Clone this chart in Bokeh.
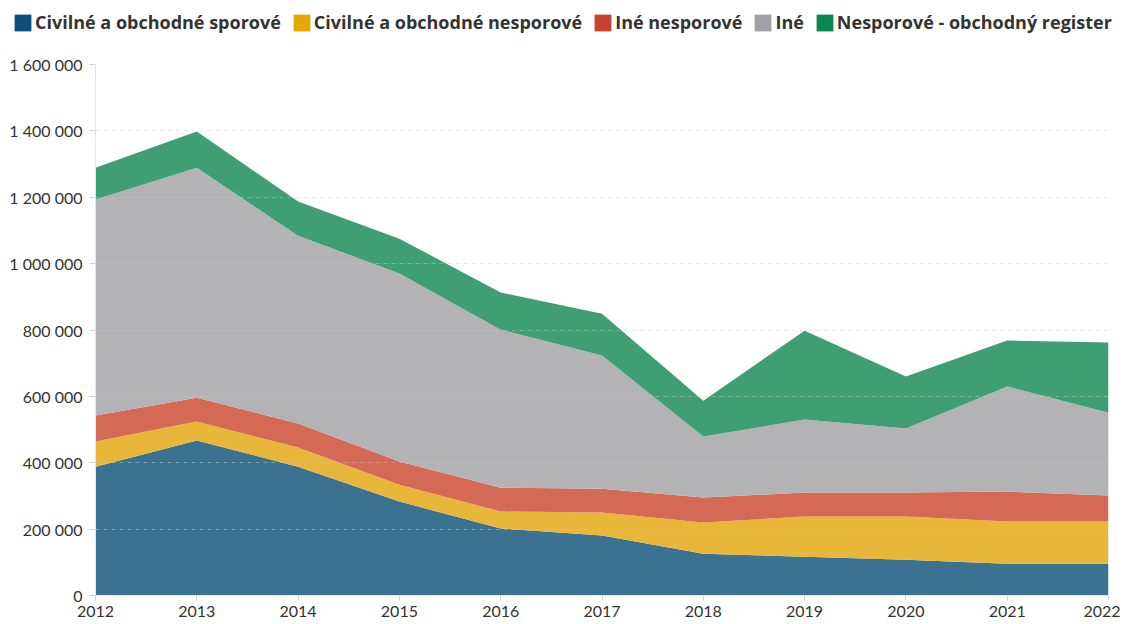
from bokeh.plotting import figure
from bokeh.layouts import column, row
from bokeh.models import (ColumnDataSource, FixedTicker, CustomJSTickFormatter, Legend, LegendItem, Range1d)
from bokeh.embed import file_html
from bokeh.resources import INLINE

years = [2012, 2013, 2014, 2015, 2016, 2017, 2018, 2019, 2020, 2021, 2022]
civ_sporove = [388000, 467000, 388000, 283000, 202000, 181000, 126000, 117000, 108000, 96000, 96000]
civ_nesporove = [76000, 57000, 58000, 51000, 51000, 69000, 94000, 121000, 130000, 127000, 127000]
ine_nesporove = [78000, 72000, 72000, 70000, 72000, 72000, 75000, 72000, 72000, 90000, 78000]
ine = [651000, 693000, 566000, 566000, 476000, 401000, 184000, 220000, 193000, 317000, 250000]
nesp_or = [96000, 109000, 103000, 105000, 112000, 126000, 108000, 268000, 157000, 138000, 211000]

names = ["Civilné a obchodné sporové", "Civilné a obchodné nesporové", "Iné nesporové", "Iné",
         "Nesporové - obchodný register"]
keys = ["a", "b", "c", "d", "e"]
area_colors = ["#3b7291", "#e8b739", "#d46a56", "#b3b3b5", "#3f9e74"]
legend_colors = ["#0b4f7c", "#e8a800", "#c9432b", "#a0a0a5", "#0a8754"]

source = ColumnDataSource(dict(x=years, a=civ_sporove, b=civ_nesporove, c=ine_nesporove, d=ine, e=nesp_or))

FONT = "Lato"
LEG_FONT = "Open Sans"
W = 1120
LEG_H = 44

# legend strip (hidden dummy swatches lie outside its ranges)
lf = figure(width=W, height=LEG_H, output_backend="svg", toolbar_location=None,
            x_range=Range1d(0, 1), y_range=Range1d(0, 1),
            x_axis_location=None, y_axis_location=None,
            min_border_left=0, min_border_right=0, min_border_top=0, min_border_bottom=0)
lf.grid.visible = False
lf.outline_line_color = None
dummies = []
for c in legend_colors:
    r = lf.quad(left=[5], right=[6], top=[6], bottom=[5], fill_color=c, line_color=None)
    dummies.append(r)
legend = Legend(items=[LegendItem(label=n, renderers=[r]) for n, r in zip(names, dummies)],
                orientation="horizontal", location=(12, 10),
                background_fill_alpha=0, border_line_color=None,
                padding=0, margin=0, spacing=10, label_standoff=2,
                glyph_width=21, glyph_height=21, label_height=21,
                label_text_font=LEG_FONT, label_text_font_style="bold",
                label_text_font_size="18px", label_text_color="#333333")
lf.add_layout(legend, "center")

p = figure(width=W, height=620 - LEG_H, output_backend="svg", toolbar_location=None,
           x_range=Range1d(2012, 2022), y_range=Range1d(0, 1600000),
           min_border_left=95, min_border_right=12, min_border_top=64 - LEG_H, min_border_bottom=25)
p.outline_line_color = None

p.varea_stack(stackers=keys, x="x", color=area_colors, source=source)

p.yaxis.ticker = FixedTicker(ticks=[0, 200000, 400000, 600000, 800000, 1000000, 1200000, 1400000, 1600000])
p.yaxis.formatter = CustomJSTickFormatter(code="return tick.toString().replace(/\\B(?=(\\d{3})+(?!\\d))/g, ' ');")
p.xaxis.ticker = FixedTicker(ticks=years)

for ax in (p.xaxis, p.yaxis):
    ax.axis_line_color = "#e6e6e6"
    ax.major_tick_line_color = "#d0d0d0"
    ax.major_tick_in = 0
    ax.major_tick_out = 6
    ax.minor_tick_line_color = None
    ax.major_label_text_font = FONT
    ax.major_label_text_font_size = "16px"
    ax.major_label_text_color = "#333333"
p.yaxis.major_label_standoff = 7
p.xaxis.major_label_standoff = 5
p.xaxis.major_tick_out = 5

p.xgrid.grid_line_color = None
p.ygrid.grid_line_color = "#cccccc"
p.ygrid.grid_line_alpha = 0.45
p.ygrid.grid_line_dash = "4 4"
p.ygrid.level = "overlay"

layout = column(row(lf), p, spacing=0)
open("out.html", "w").write(file_html(layout, INLINE))
